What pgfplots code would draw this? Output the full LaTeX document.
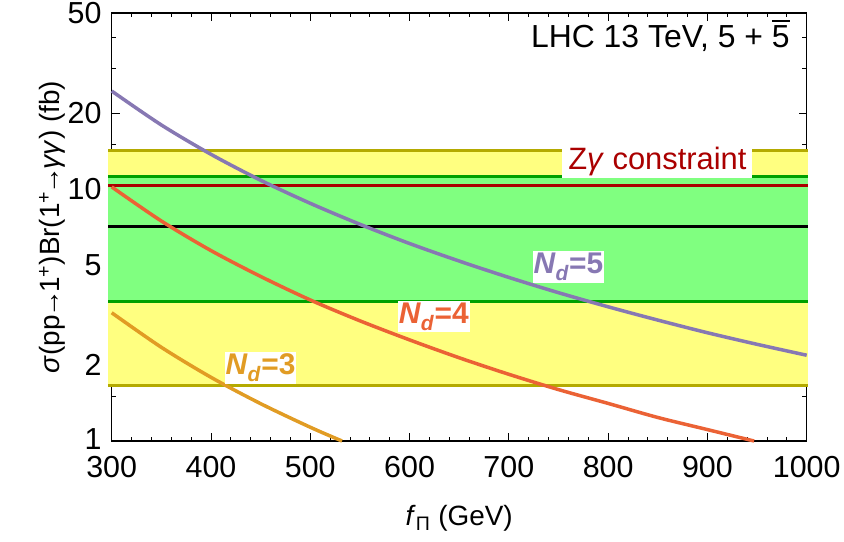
\documentclass[border=0pt]{standalone}
\usepackage{fontspec}
\setmainfont{Liberation Sans}
\usepackage{pgfplots}
\pgfplotsset{compat=1.18}
\usetikzlibrary{calc}
\definecolor{yband}{RGB}{255,255,128}
\definecolor{ybord}{RGB}{180,170,0}
\definecolor{gband}{RGB}{128,255,128}
\definecolor{gbord}{RGB}{0,160,0}
\definecolor{zred}{RGB}{170,0,0}
\definecolor{cfive}{RGB}{135,120,179}
\definecolor{cfour}{RGB}{235,98,53}
\definecolor{cthree}{RGB}{225,156,36}
\newcommand{\arr}{\kern-0.1em→\kern-0.1em}
\newcommand{\fivebar}{5\kern-0.556em\raisebox{0.8em}{\rule{0.556em}{0.07em}}}
\begin{document}
\begin{tikzpicture}
\begin{axis}[
  scale only axis, width=695bp, height=428bp,
  xmin=300, xmax=1000, ymode=log, ymin=1, ymax=50,
  clip=false,
  xtick={300,400,...,1000}, minor x tick num=4,
  ytick={1,2,5,10,20,50}, yticklabels={\raisebox{3.5bp}{1},2,5,10,20,50},
  minor ytick={1.5,3,4,6,7,8,9,15,30,40},
  tick align=inside,
  major tick length=8bp, minor tick length=4.5bp,
  tick style={black, line width=0.9bp},
  axis line style={line width=1.3bp},
  /pgf/number format/assume math mode=true,
  /pgf/number format/1000 sep={},
  ticklabel style={font=\fontsize{30.5}{30.5}\selectfont, inner sep=0pt},
  xticklabel style={yshift=-15bp},
  yticklabel style={xshift=-10bp},
  label style={font=\fontsize{28}{28}\selectfont},
  xlabel={\textit{f}\textsubscript{Π} (GeV)},
  ylabel={\textit{σ}(pp\arr1\textsuperscript{+})Br(1\textsuperscript{+}\arr\textit{γγ}) (fb)},
  xlabel style={at={(axis description cs:0.5,0)}, anchor=center, yshift=-77bp},
  ylabel style={yshift=-1bp},
]
% bands
\addplot[fill=yband, draw=none] coordinates {(296.5,1.66) (1001.7,1.66) (1001.7,14.2) (296.5,14.2)} -- cycle;
\addplot[fill=gband, draw=none] coordinates {(296.5,3.59) (1001.7,3.59) (1001.7,11.2) (296.5,11.2)} -- cycle;
\addplot[ybord, line width=3bp] coordinates {(296.5,1.66) (1001.7,1.66)};
\addplot[ybord, line width=3bp] coordinates {(296.5,14.2) (1001.7,14.2)};
\addplot[gbord, line width=3bp] coordinates {(296.5,3.59) (1001.7,3.59)};
\addplot[gbord, line width=3bp] coordinates {(296.5,11.2) (1001.7,11.2)};
\addplot[black, line width=3bp] coordinates {(296.5,7.08) (1001.7,7.08)};
\addplot[zred, line width=3bp] coordinates {(296.5,10.38) (1001.7,10.38)};
% curves
\addplot[cthree, line width=3.5bp, smooth] coordinates {
 (300,3.23) (350,2.355) (400,1.79) (450,1.407) (500,1.134) (532,1.00)};
\addplot[cfour, line width=3.5bp, smooth] coordinates {
 (300,10.2) (350,7.47) (400,5.70) (450,4.50) (500,3.63) (550,3.00) (600,2.52)
 (650,2.14) (700,1.84) (750,1.60) (800,1.41) (850,1.24) (900,1.11) (947,1.00)};
\addplot[cfive, line width=3.5bp, smooth] coordinates {
 (300,24.5) (350,17.97) (400,13.74) (450,10.84) (500,8.78) (550,7.25) (600,6.08)
 (650,5.18) (700,4.46) (750,3.88) (800,3.41) (850,3.02) (900,2.69) (950,2.42) (1000,2.19)};
% labels
\node[fill=white, text=zred, inner sep=0pt, minimum width=190bp, minimum height=34bp,
      font=\fontsize{31}{31}\selectfont] at (axis cs:849.6,12.9) {Z\textit{γ} constraint};
\node[anchor=east, inner sep=0pt, font=\fontsize{32}{32}\selectfont]
      at (axis cs:983,40.5) {LHC 13 TeV, 5 + \fivebar};
\node[fill=white, text=cfive, inner xsep=1bp, inner ysep=2bp, font=\bfseries\fontsize{30}{30}\selectfont]
      at (axis cs:760,4.90) {\textit{N}\textsubscript{\textit{d}}=5};
\node[fill=white, text=cfour, inner xsep=1bp, inner ysep=2bp, font=\bfseries\fontsize{30}{30}\selectfont]
      at (axis cs:624.4,3.12) {\textit{N}\textsubscript{\textit{d}}=4};
\node[fill=white, text=cthree, inner xsep=1bp, inner ysep=2bp, font=\bfseries\fontsize{30}{30}\selectfont]
      at (axis cs:449.9,1.95) {\textit{N}\textsubscript{\textit{d}}=3};
\end{axis}
\pgfresetboundingbox
\path[use as bounding box] ($(current axis.south west)+(-111.7bp,-100bp)$) rectangle ($(current axis.north east)+(37.3bp,13bp)$);
\end{tikzpicture}
\end{document}
